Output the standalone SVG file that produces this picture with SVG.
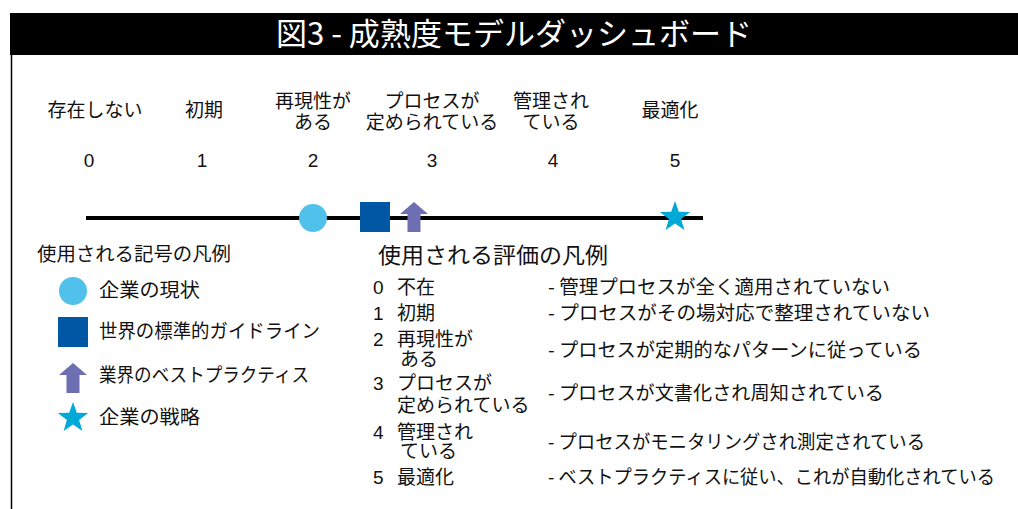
<svg xmlns="http://www.w3.org/2000/svg" width="1018" height="509" viewBox="0 0 1018 509">
<style>
text{font-family:"Noto Sans CJK JP","Noto Sans",sans-serif;fill:#111;font-size:19px}
.c{text-anchor:middle}
.t{fill:#fff;font-size:31px}
.h{font-size:22px}
.n{font-family:"Liberation Sans",Arial,sans-serif;font-size:19px}
.cur{fill:#4fc1ea}
.std{fill:#0057a3}
.bp{fill:#6e6fb3}
.str{fill:#00a9d6}
</style>
<defs>
<path id="arrow" d="M0,12 L14,0 L28,12 L20.5,12 L20.5,30 L7.5,30 L7.5,12 Z"/>
<polygon id="star" points="0,-16 3.8,-5.2 15.2,-4.9 6.1,2 9.4,13 0,6.5 -9.4,13 -6.1,2 -15.2,-4.9 -3.8,-5.2"/>
</defs>
<rect width="1018" height="509" fill="#fff"/>
<g id="title">
<rect x="10" y="13" width="1008" height="42" fill="#000"/>
<text class="t c" x="514" y="45" textLength="476" lengthAdjust="spacingAndGlyphs">図3 - 成熟度モデルダッシュボード</text>
</g>
<line x1="11.5" y1="55" x2="11.5" y2="509" stroke="#000" stroke-width="1.5"/>
<g id="levels">
<text class="c" x="95" y="117">存在しない</text>
<text class="c" x="204" y="117">初期</text>
<text class="c" x="313" y="108">再現性が<tspan x="313" dy="21">ある</tspan></text>
<text class="c" x="432" y="108">プロセスが<tspan x="432" dy="21">定められている</tspan></text>
<text class="c" x="551" y="108">管理され<tspan x="551" dy="21">ている</tspan></text>
<text class="c" x="670" y="117">最適化</text>
<text class="c n" x="89" y="167">0</text>
<text class="c n" x="202" y="167">1</text>
<text class="c n" x="313" y="167">2</text>
<text class="c n" x="432" y="167">3</text>
<text class="c n" x="553" y="167">4</text>
<text class="c n" x="675" y="167">5</text>
</g>
<g id="connectors">
<line x1="86" y1="218" x2="703" y2="218" stroke="#000" stroke-width="4"/>
</g>
<g id="markers">
<circle class="cur" cx="313" cy="218" r="14"/>
<rect class="std" x="360" y="202" width="30" height="30"/>
<use class="bp" href="#arrow" x="400" y="202"/>
<use class="str" href="#star" x="675" y="217"/>
</g>
<g id="symbol-legend">
<text x="37" y="261" textLength="194" lengthAdjust="spacingAndGlyphs">使用される記号の凡例</text>
<circle class="cur" cx="73" cy="291" r="14"/>
<text x="99" y="297" textLength="101" lengthAdjust="spacingAndGlyphs">企業の現状</text>
<rect class="std" x="58" y="317" width="30" height="30"/>
<text x="99" y="338" textLength="221" lengthAdjust="spacingAndGlyphs">世界の標準的ガイドライン</text>
<use class="bp" href="#arrow" x="59" y="363"/>
<text x="99" y="382" textLength="210" lengthAdjust="spacingAndGlyphs">業界のベストプラクティス</text>
<use class="str" href="#star" x="73" y="418"/>
<text x="99" y="424" textLength="101" lengthAdjust="spacingAndGlyphs">企業の戦略</text>
</g>
<g id="rating-legend">
<text class="h" x="378" y="263" textLength="230" lengthAdjust="spacingAndGlyphs">使用される評価の凡例</text>
<text class="n" x="373" y="294">0</text><text x="397" y="294">不在</text><text x="548" y="294" textLength="342" lengthAdjust="spacingAndGlyphs">- 管理プロセスが全く適用されていない</text>
<text class="n" x="373" y="320">1</text><text x="397" y="320">初期</text><text x="548" y="320" textLength="382" lengthAdjust="spacingAndGlyphs">- プロセスがその場対応で整理されていない</text>
<text class="n" x="373" y="346">2</text><text x="397" y="346">再現性が<tspan x="400" dy="20">ある</tspan></text><text x="548" y="357" textLength="374" lengthAdjust="spacingAndGlyphs">- プロセスが定期的なパターンに従っている</text>
<text class="n" x="373" y="390">3</text><text x="397" y="390">プロセスが<tspan x="397" dy="22">定められている</tspan></text><text x="548" y="400" textLength="336" lengthAdjust="spacingAndGlyphs">- プロセスが文書化され周知されている</text>
<text class="n" x="373" y="439">4</text><text x="397" y="439">管理され<tspan x="400" dy="19">ている</tspan></text><text x="548" y="449" textLength="377" lengthAdjust="spacingAndGlyphs">- プロセスがモニタリングされ測定されている</text>
<text class="n" x="373" y="484">5</text><text x="397" y="484">最適化</text><text x="548" y="484" textLength="447" lengthAdjust="spacingAndGlyphs">- ベストプラクティスに従い、これが自動化されている</text>
</g>
</svg>
